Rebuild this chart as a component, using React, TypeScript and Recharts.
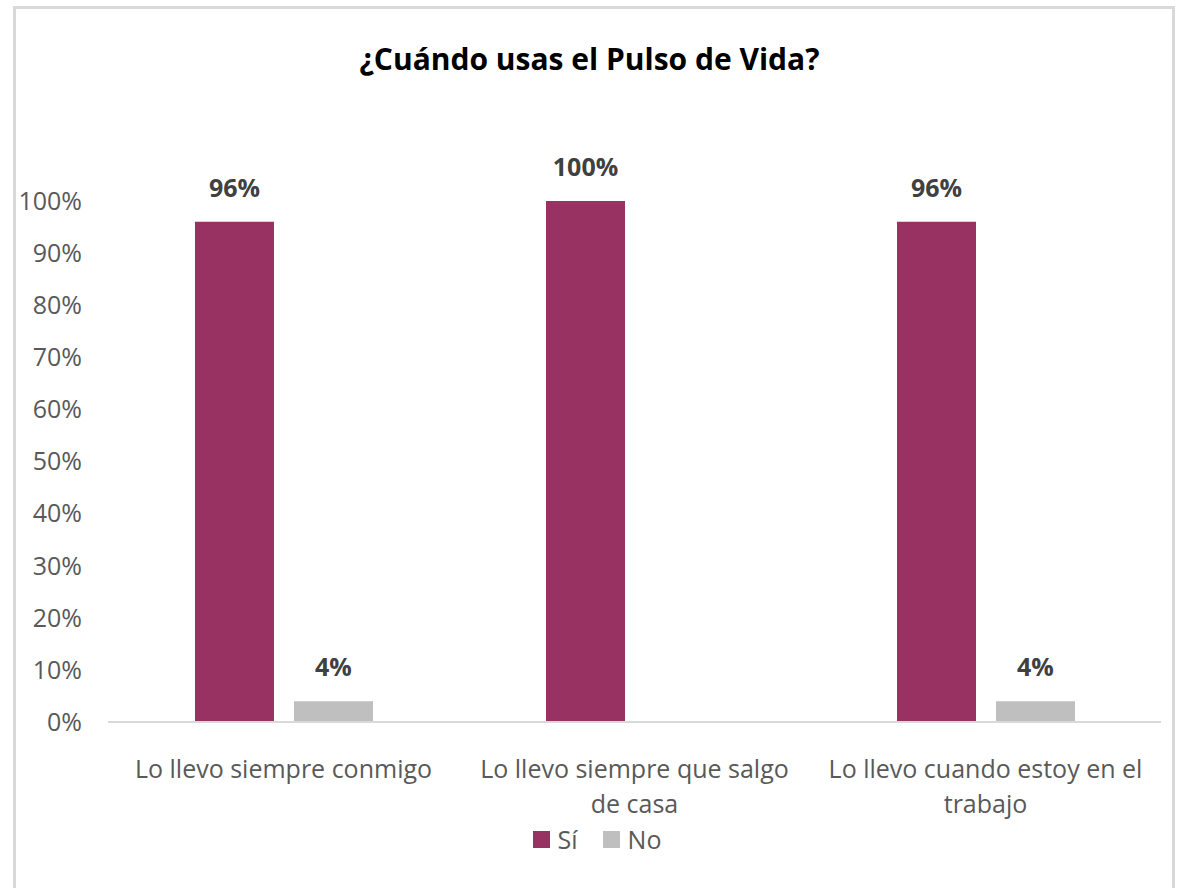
import { BarChart, Bar, XAxis, YAxis, Legend, LabelList } from 'recharts';

const categorias = [
  'Lo llevo siempre conmigo',
  'Lo llevo siempre que salgo\nde casa',
  'Lo llevo cuando estoy en el\ntrabajo',
];
const valoresSi = [96, 100, 96];
const valoresNo = [4, 0, 4];
const ticksY = [0, 10, 20, 30, 40, 50, 60, 70, 80, 90, 100];

const series = [
  { key: 'si', nombre: 'Sí', color: '#983263' },
  { key: 'no', nombre: 'No', color: '#BFBFBF' },
];

const dados = categorias.map((c, i) => ({
  categoria: c,
  si: valoresSi[i],
  no: valoresNo[i],
}));

const FUENTE = '"Open Sans", sans-serif';

function TickCategoria({ x, y, payload }: any) {
  const lineas = String(payload.value).split('\n');
  return (
    <text x={x} y={y} textAnchor="middle" fill="#595959" fontSize={25} fontFamily={FUENTE}>
      {lineas.map((l, i) => (
        <tspan key={i} x={x} dy={i === 0 ? 56 : 35}>
          {l}
        </tspan>
      ))}
    </text>
  );
}

function Leyenda() {
  return (
    <div
      style={{
        display: 'flex',
        justifyContent: 'center',
        alignItems: 'center',
        paddingLeft: 40,
        fontFamily: FUENTE,
        fontSize: 25,
        color: '#595959',
      }}
    >
      {series.map((s) => (
        <div key={s.key} style={{ display: 'flex', alignItems: 'center', marginRight: 25 }}>
          <span style={{ width: 17, height: 17, background: s.color, marginRight: 8 }} />
          <span>{s.nombre}</span>
        </div>
      ))}
    </div>
  );
}

export default function App() {
  return (
    <div style={{ position: 'absolute', left: 0, top: 0, width: 1179, height: 888, overflow: 'hidden', background: '#fff' }}>
      <div
        style={{
          position: 'absolute',
          left: 13,
          top: 6,
          width: 1156,
          height: 900,
          border: '3px solid #d9d9d9',
          borderBottom: 'none',
        }}
      />
      <div
        style={{
          position: 'absolute',
          left: 0,
          top: 41,
          width: 1179,
          textAlign: 'center',
          fontFamily: FUENTE,
          fontWeight: 700,
          fontSize: 30,
          lineHeight: '36px',
          color: '#000',
        }}
      >
        ¿Cuándo usas el Pulso de Vida?
      </div>
      <div style={{ position: 'absolute', left: 0, top: 0 }}>
        <BarChart
          width={1179}
          height={888}
          data={dados}
          margin={{ top: 201, right: 18, bottom: 136, left: 0 }}
          barSize={79}
          barGap={20}
        >
          <XAxis
            dataKey="categoria"
            height={30}
            axisLine={{ stroke: '#d9d9d9', strokeWidth: 2 }}
            tickLine={false}
            tickSize={0}
            tickMargin={0}
            interval={0}
            tick={<TickCategoria />}
          />
          <YAxis
            width={108}
            domain={[0, 100]}
            ticks={ticksY}
            interval={0}
            axisLine={false}
            tickLine={false}
            tickSize={0}
            tickMargin={26}
            tickFormatter={(v) => `${v}%`}
            tick={{ fill: '#595959', fontSize: 25, fontFamily: FUENTE }}
          />
          <Legend verticalAlign="middle" align="center" wrapperStyle={{ top: 822, left: 0, width: 1179 }} content={<Leyenda />} />
          {series.map((s) => (
            <Bar key={s.key} dataKey={s.key} name={s.nombre} fill={s.color} isAnimationActive={false}>
              <LabelList
                dataKey={s.key}
                position="top"
                offset={25}
                formatter={(v: any) => (v ? `${v}%` : '')}
                style={{ fill: '#404040', fontSize: 25, fontWeight: 700, fontFamily: FUENTE }}
              />
            </Bar>
          ))}
        </BarChart>
      </div>
    </div>
  );
}
